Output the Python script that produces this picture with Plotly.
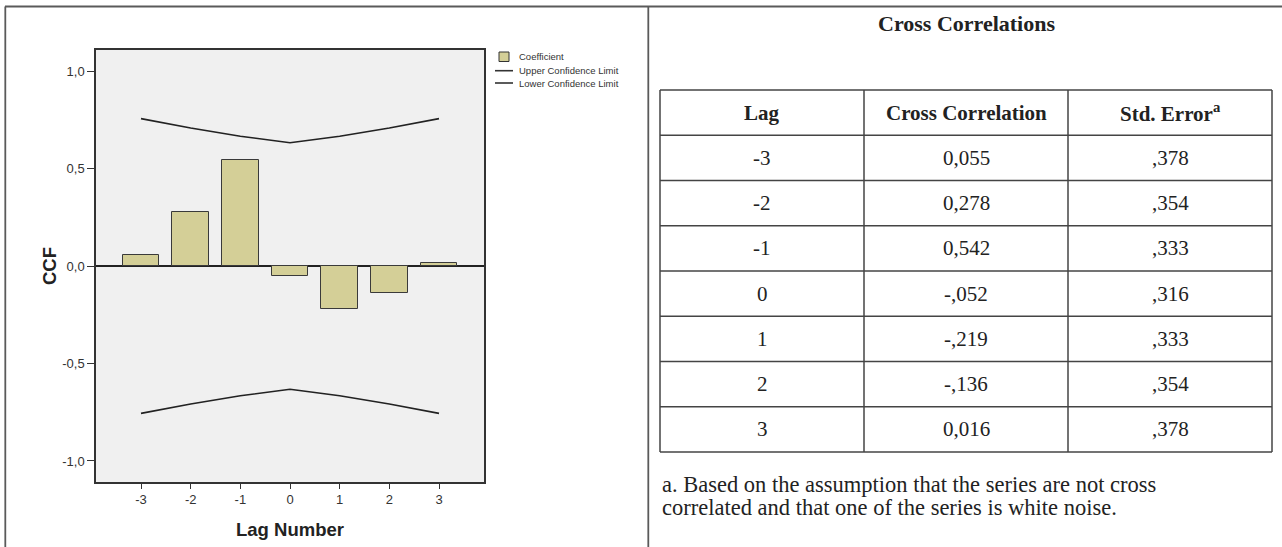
import plotly.graph_objects as go

W, H = 1282, 547

# ---- data ----
lags = [-3, -2, -1, 0, 1, 2, 3]
ccf = [0.055, 0.278, 0.542, -0.052, -0.219, -0.136, 0.016]
std_err = [0.378, 0.354, 0.333, 0.316, 0.333, 0.354, 0.378]
upper = [0.756, 0.708, 0.666, 0.632, 0.666, 0.708, 0.756]
lower = [-0.756, -0.708, -0.666, -0.632, -0.666, -0.708, -0.756]
y_tickvals = [1.0, 0.5, 0.0, -0.5, -1.0]
y_ticktext = ["1,0", "0,5", "0,0", "-0,5", "-1,0"]
x_ticktext = ["-3", "-2", "-1", "0", "1", "2", "3"]
tbl_lag = ["-3", "-2", "-1", "0", "1", "2", "3"]
tbl_cc = ["0,055", "0,278", "0,542", "-,052", "-,219", "-,136", "0,016"]
tbl_se = [",378", ",354", ",333", ",316", ",333", ",354", ",378"]
tbl_header = ["Lag", "Cross Correlation", "Std. Error<sup>a</sup>"]
legend_names = ["Coefficient", "Upper Confidence Limit", "Lower Confidence Limit"]

BAR = "#D4CF97"
FRAME = "#5a5a5a"
SANS = "Liberation Sans, Arial, sans-serif"
SERIF = "Liberation Serif, Times New Roman, serif"


def px(x):
    return x / W


def py(y):
    return 1 - y / H


fig = go.Figure()
fig.add_trace(go.Bar(x=lags, y=ccf, width=0.74, marker=dict(color=BAR, line=dict(color="#3a3a3a", width=1)),
                     name=legend_names[0], showlegend=False))
fig.add_trace(go.Scatter(x=lags, y=upper, mode="lines", line=dict(color="#222", width=1.6),
                         name=legend_names[1], showlegend=False))
fig.add_trace(go.Scatter(x=lags, y=lower, mode="lines", line=dict(color="#222", width=1.6),
                         name=legend_names[2], showlegend=False))

shapes = []
ann = []

# outer frames
shapes.append(dict(type="line", xref="paper", yref="paper", x0=px(5), x1=px(1282), y0=py(6.5), y1=py(6.5),
                   line=dict(color=FRAME, width=1.8)))
shapes.append(dict(type="line", xref="paper", yref="paper", x0=px(5.3), x1=px(5.3), y0=py(6.5), y1=py(547),
                   line=dict(color=FRAME, width=1.8)))
shapes.append(dict(type="line", xref="paper", yref="paper", x0=px(648.3), x1=px(648.3), y0=py(6.5), y1=py(547),
                   line=dict(color=FRAME, width=1.8)))

# custom legend
shapes.append(dict(type="rect", xref="paper", yref="paper", x0=px(499), x1=px(509), y0=py(61.5), y1=py(52),
                   fillcolor=BAR, line=dict(color="#333", width=1)))
for yy in (70.7, 83):
    shapes.append(dict(type="line", xref="paper", yref="paper", x0=px(495), x1=px(513), y0=py(yy), y1=py(yy),
                       line=dict(color="#333", width=1.6)))
for name, yy in zip(legend_names, (56.7, 70.7, 83)):
    ann.append(dict(text=name, xref="paper", yref="paper", x=px(517), y=py(yy), xanchor="left", yanchor="middle",
                    showarrow=False, font=dict(family=SANS, size=9.5, color="#333")))

# axis titles
ann.append(dict(text="<b>CCF</b>", xref="paper", yref="paper", x=px(49), y=py(266), xanchor="center",
                yanchor="middle", textangle=-90, showarrow=False, font=dict(family=SANS, size=18.5, color="#222")))
ann.append(dict(text="<b>Lag Number</b>", xref="paper", yref="paper", x=px(290), y=py(529), xanchor="center",
                yanchor="middle", showarrow=False, font=dict(family=SANS, size=18.5, color="#222")))

# right panel: table
ann.append(dict(text="<b>Cross Correlations</b>", xref="paper", yref="paper", x=px(966), y=py(23),
                xanchor="center", yanchor="middle", showarrow=False, font=dict(family=SERIF, size=22, color="#222")))
col_x = [660, 864, 1068, 1272]
top, bottom = 90, 452
n_rows = 1 + len(tbl_lag)
rh = (bottom - top) / n_rows
TL = "#444"
for cx in col_x:
    shapes.append(dict(type="line", xref="paper", yref="paper", x0=px(cx), x1=px(cx), y0=py(top), y1=py(bottom),
                       line=dict(color=TL, width=1.5)))
for r in range(n_rows + 1):
    yy = top + r * rh
    shapes.append(dict(type="line", xref="paper", yref="paper", x0=px(col_x[0]), x1=px(col_x[-1]), y0=py(yy),
                       y1=py(yy), line=dict(color=TL, width=1.5)))
centers = [(col_x[i] + col_x[i + 1]) / 2 for i in range(3)]
for i, h in enumerate(tbl_header):
    ann.append(dict(text="<b>" + h + "</b>", xref="paper", yref="paper", x=px(centers[i]), y=py(top + rh / 2),
                    xanchor="center", yanchor="middle", showarrow=False,
                    font=dict(family=SERIF, size=21, color="#222")))
for r, row in enumerate(zip(tbl_lag, tbl_cc, tbl_se)):
    yc = top + (r + 1.5) * rh
    for i, v in enumerate(row):
        ann.append(dict(text=v, xref="paper", yref="paper", x=px(centers[i]), y=py(yc), xanchor="center",
                        yanchor="middle", showarrow=False, font=dict(family=SERIF, size=21, color="#222")))

foot = ["a. Based on the assumption that the series are not cross",
        "correlated and that one of the series is white noise."]
for line, yy in zip(foot, (485, 507.7)):
    ann.append(dict(text=line, xref="paper", yref="paper", x=px(660), y=py(yy), xanchor="left", yanchor="middle",
                    showarrow=False, font=dict(family=SERIF, size=22.5, color="#222")))

fig.update_layout(
    width=W, height=H, margin=dict(l=0, r=0, t=0, b=0),
    paper_bgcolor="white", plot_bgcolor="#F0F0F0",
    showlegend=False, shapes=shapes, annotations=ann, bargap=0,
    xaxis=dict(domain=[px(96), px(484)], range=[-3.906, 3.906], tickvals=lags, ticktext=x_ticktext,
               ticks="outside", ticklen=5, tickwidth=1.3, tickcolor="#333", showline=True, mirror=True,
               linecolor="#333", linewidth=1.5, showgrid=False, zeroline=False,
               tickfont=dict(family=SANS, size=13, color="#333")),
    yaxis=dict(domain=[py(482), py(50)], range=[-1.108, 1.108], tickvals=y_tickvals, ticktext=y_ticktext,
               ticks="outside", ticklen=7, tickwidth=1.3, tickcolor="#333", showline=True, mirror=True,
               linecolor="#333", linewidth=1.5, showgrid=False, zeroline=True, zerolinecolor="#222",
               zerolinewidth=1.5, tickfont=dict(family=SANS, size=13, color="#333")),
)
fig.write_html("out.html", config={"displayModeBar": False},
               post_script="document.body.style.margin='0';document.body.style.overflow='hidden';")
